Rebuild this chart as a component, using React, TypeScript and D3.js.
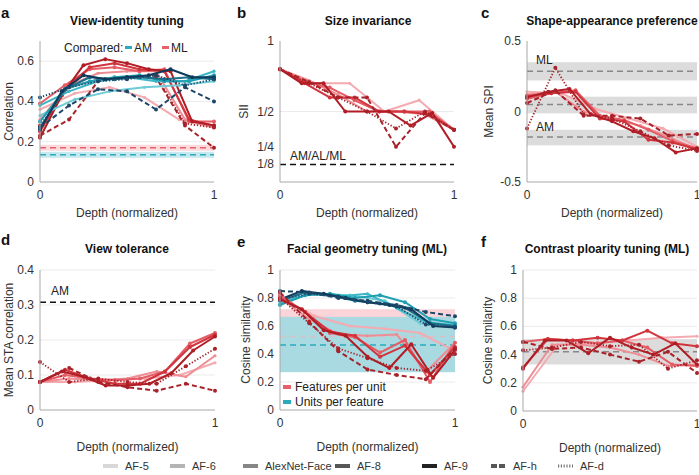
import React from "react";
import * as d3 from "d3";

const NETWORKS = ["AF-5", "AF-6", "AlexNet-Face", "AF-8", "AF-9", "AF-h", "AF-d"];
const LAYER_COUNTS = [6, 7, 8, 8, 9, 7, 7];
const ML_COLORS = ["#f4aab0", "#ee8d94", "#e45c65", "#d2343d", "#b01d25", "#a8222a", "#a8222a"];
const AM_COLORS = ["#6fcbd6", "#3bb7c6", "#1f9fb2", "#1a6f8a", "#0f3a5a", "#1c4768", "#1c4768"];
const LEGEND_COLORS = ["#d8d8d8", "#b4b4b4", "#868686", "#575757", "#222222", "#575757", "#777777"];
const DASHES = ["", "", "", "", "", "5,3", "1.3,1.8"];

// a: View-identity tuning
const viewIdML = [
  [0.36, 0.44, 0.47, 0.42, 0.31, 0.27],
  [0.31, 0.48, 0.54, 0.55, 0.55, 0.31, 0.27],
  [0.39, 0.48, 0.56, 0.57, 0.55, 0.56, 0.30, 0.30],
  [0.25, 0.46, 0.57, 0.59, 0.56, 0.55, 0.31, 0.28],
  [0.22, 0.43, 0.58, 0.61, 0.59, 0.56, 0.55, 0.30, 0.28],
  [0.23, 0.31, 0.50, 0.52, 0.52, 0.28, 0.17],
  [0.28, 0.47, 0.51, 0.52, 0.53, 0.29, 0.27],
];
const viewIdAM = [
  [0.33, 0.41, 0.45, 0.47, 0.48, 0.50],
  [0.38, 0.45, 0.50, 0.52, 0.50, 0.50, 0.55],
  [0.30, 0.46, 0.50, 0.52, 0.53, 0.50, 0.50, 0.53],
  [0.27, 0.46, 0.52, 0.51, 0.52, 0.51, 0.52, 0.51],
  [0.26, 0.45, 0.53, 0.51, 0.52, 0.53, 0.56, 0.52, 0.52],
  [0.27, 0.38, 0.46, 0.45, 0.36, 0.47, 0.40],
  [0.42, 0.47, 0.50, 0.51, 0.53, 0.48, 0.51],
];
const viewIdBaseline = { ML: [0.155, 0.17, 0.185], AM: [0.12, 0.135, 0.15] };

// b: Size invariance
const sizeInv = [
  [0.80, 0.70, 0.70, 0.50, 0.58, 0.37],
  [0.80, 0.72, 0.62, 0.50, 0.50, 0.48, 0.37],
  [0.80, 0.71, 0.67, 0.58, 0.50, 0.50, 0.50, 0.37],
  [0.80, 0.70, 0.60, 0.60, 0.50, 0.50, 0.48, 0.37],
  [0.80, 0.70, 0.70, 0.50, 0.50, 0.50, 0.40, 0.49, 0.25],
  [0.80, 0.71, 0.60, 0.60, 0.25, 0.49, 0.37],
  [0.80, 0.70, 0.60, 0.50, 0.38, 0.50, 0.37],
];
const sizeTicks = [1, 0.5, 0.25, 0.125];
const sizeTickLabels = ["1", "1/2", "1/4", "1/8"];
const sizeBaseline = 0.125;

// c: Shape-appearance preference
const shapeApp = [
  [0.14, 0.13, 0.02, -0.05, -0.12, -0.25],
  [0.12, 0.14, 0.0, -0.05, -0.1, -0.18, -0.27],
  [0.09, 0.13, 0.15, -0.03, -0.06, -0.13, -0.21, -0.26],
  [0.11, 0.13, 0.14, -0.05, -0.07, -0.2, -0.22, -0.27],
  [0.10, 0.14, 0.16, -0.02, -0.07, -0.14, -0.19, -0.29, -0.26],
  [0.06, 0.15, -0.03, -0.03, -0.05, -0.17, -0.16],
  [-0.12, 0.31, -0.02, -0.05, -0.14, -0.24, -0.28],
];
const shapeBands = [
  [0.22, 0.285, 0.35],
  [-0.013, 0.05, 0.105],
  [-0.24, -0.18, -0.13],
];

// d: View tolerance
const viewTol = [
  [0.08, 0.08, 0.085, 0.09, 0.10, 0.135],
  [0.08, 0.09, 0.085, 0.09, 0.11, 0.095, 0.155],
  [0.08, 0.10, 0.09, 0.085, 0.09, 0.11, 0.19, 0.22],
  [0.08, 0.115, 0.09, 0.075, 0.075, 0.11, 0.18, 0.215],
  [0.08, 0.11, 0.095, 0.07, 0.07, 0.075, 0.105, 0.17, 0.21],
  [0.08, 0.12, 0.08, 0.065, 0.055, 0.075, 0.055],
  [0.137, 0.08, 0.09, 0.08, 0.075, 0.125, 0.175],
];
const viewTolAM = 0.308;

// e: Facial geometry tuning
const geomML = [
  [0.80, 0.67, 0.60, 0.58, 0.55, 0.42],
  [0.80, 0.65, 0.54, 0.53, 0.54, 0.27, 0.48],
  [0.82, 0.70, 0.55, 0.52, 0.41, 0.50, 0.20, 0.48],
  [0.80, 0.70, 0.56, 0.53, 0.38, 0.46, 0.25, 0.45],
  [0.79, 0.72, 0.57, 0.53, 0.38, 0.30, 0.47, 0.23, 0.43],
  [0.84, 0.63, 0.42, 0.29, 0.25, 0.22, 0.44],
  [0.80, 0.62, 0.44, 0.37, 0.30, 0.28, 0.40],
];
const geomAM = [
  [0.78, 0.83, 0.82, 0.78, 0.62, 0.61],
  [0.76, 0.83, 0.81, 0.83, 0.73, 0.63, 0.60],
  [0.75, 0.82, 0.83, 0.80, 0.82, 0.77, 0.65, 0.62],
  [0.78, 0.84, 0.82, 0.78, 0.76, 0.73, 0.62, 0.60],
  [0.79, 0.85, 0.83, 0.80, 0.77, 0.75, 0.72, 0.60, 0.59],
  [0.85, 0.84, 0.80, 0.78, 0.75, 0.70, 0.67],
  [0.79, 0.83, 0.81, 0.77, 0.74, 0.61, 0.59],
];
const geomBandML = [0.34, 0.525, 0.72];
const geomBandAM = [0.27, 0.464, 0.665];

// f: Contrast polarity tuning
const contrast = [
  [0.14, 0.47, 0.48, 0.50, 0.52, 0.53],
  [0.17, 0.47, 0.47, 0.45, 0.40, 0.32, 0.33],
  [0.49, 0.51, 0.50, 0.48, 0.50, 0.45, 0.33, 0.32],
  [0.31, 0.51, 0.50, 0.52, 0.50, 0.57, 0.48, 0.46],
  [0.30, 0.50, 0.50, 0.41, 0.52, 0.45, 0.40, 0.48, 0.33],
  [0.49, 0.44, 0.45, 0.40, 0.35, 0.42, 0.27],
  [0.43, 0.45, 0.49, 0.46, 0.47, 0.30, 0.36],
];
const contrastBand = [0.33, 0.42, 0.51];

const FONT = "'Liberation Sans', Arial, Helvetica, sans-serif";

type Box = { x0: number; x1: number; yTop: number; yBot: number; domain: [number, number] };

function Lines({ data, colors, sx, sy }: { data: number[][]; colors: string[]; sx: any; sy: any }) {
  const line = d3
    .line<[number, number]>()
    .x((d) => sx(d[0]))
    .y((d) => sy(d[1]));
  return (
    <g>
      {data.map((vals, k) => {
        const n = LAYER_COUNTS[k];
        const pts: [number, number][] = vals.map((v, i) => [i / (n - 1), v]);
        return (
          <g key={k}>
            <path
              d={line(pts) || ""}
              fill="none"
              stroke={colors[k]}
              strokeWidth={k === 6 ? 1.8 : 2}
              strokeDasharray={DASHES[k] || undefined}
              strokeLinejoin="round"
            />
            {pts.map((p, i) => (
              <circle key={i} cx={sx(p[0])} cy={sy(p[1])} r={k < 2 ? 1.6 : 2} fill={colors[k]} />
            ))}
          </g>
        );
      })}
    </g>
  );
}

function Panel({
  box,
  letter,
  title,
  ylabel,
  ticks,
  tickLabels,
  tickFmt,
  titleY,
  ylabelX,
  children,
  grid,
}: {
  box: Box;
  letter: [string, number, number];
  title: [string, number];
  ylabel: string;
  ticks: number[];
  tickLabels?: string[];
  tickFmt?: (v: number) => string;
  titleY: number;
  ylabelX: number;
  grid: number[];
  children: (sx: any, sy: any) => React.ReactNode;
}) {
  const sx = d3.scaleLinear().domain([0, 1]).range([box.x0, box.x1]);
  const sy = d3.scaleLinear().domain(box.domain).range([box.yBot, box.yTop]);
  const fmt = tickFmt || ((v: number) => String(v));
  const isTop = box.yBot < 300;
  const xTickY = box.yBot + 17;
  const xLabelY = isTop ? box.yBot + 35 : box.yBot + 41;
  return (
    <g fontFamily={FONT}>
      <text x={letter[1]} y={letter[2]} fontSize={15} fontWeight="bold" fill="#111">
        {letter[0]}
      </text>
      <text x={title[1]} y={titleY} fontSize={12} fontWeight="bold" textAnchor="middle" fill="#111">
        {title[0]}
      </text>
      {grid.map((g, i) => (
        <line key={i} x1={box.x0} x2={box.x1} y1={sy(g)} y2={sy(g)} stroke="#ebebeb" strokeWidth={1} />
      ))}
      {children(sx, sy)}
      <line x1={box.x0} x2={box.x0} y1={box.yTop} y2={box.yBot} stroke="#a8a8a8" strokeWidth={1} />
      <line x1={box.x0} x2={box.x1} y1={box.yBot} y2={box.yBot} stroke="#a8a8a8" strokeWidth={1} />
      {ticks.map((t, i) => (
        <text key={i} x={box.x0 - 6} y={sy(t) + 4} fontSize={12} textAnchor="end" fill="#333">
          {tickLabels ? tickLabels[i] : fmt(t)}
        </text>
      ))}
      <text x={box.x0} y={xTickY} fontSize={12} textAnchor="middle" fill="#333">0</text>
      <text x={box.x1} y={xTickY} fontSize={12} textAnchor="middle" fill="#333">1</text>
      <text x={(box.x0 + box.x1) / 2} y={xLabelY} fontSize={12} textAnchor="middle" fill="#333">
        Depth (normalized)
      </text>
      <text
        transform={`translate(${ylabelX},${(box.yTop + box.yBot) / 2}) rotate(-90)`}
        fontSize={12}
        textAnchor="middle"
        fill="#333"
      >
        {ylabel}
      </text>
    </g>
  );
}

function Band({ sx, sy, band, fill, dash, x0 = 0, x1 = 1 }: any) {
  return (
    <g>
      <rect x={sx(x0)} width={sx(x1) - sx(x0)} y={sy(band[2])} height={sy(band[0]) - sy(band[2])} fill={fill} />
      <line x1={sx(x0)} x2={sx(x1)} y1={sy(band[1])} y2={sy(band[1])} stroke={dash} strokeWidth={1.5} strokeDasharray="6,4" />
    </g>
  );
}

export default function App() {
  const legendX = [103, 170, 243, 335, 422, 491, 558];
  return (
    <svg width={699} height={475} style={{ position: "absolute", left: 0, top: 0, background: "#fff" }}>
      <rect x={0} y={0} width={699} height={475} fill="#fff" />
      {/* a */}
      <Panel
        box={{ x0: 40, x1: 214, yTop: 41, yBot: 182, domain: [0, 0.7] }}
        letter={["a", 1, 18]}
        title={["View-identity tuning", 127]}
        titleY={25}
        ylabel="Correlation"
        ylabelX={13}
        ticks={[0, 0.2, 0.4, 0.6]}
        grid={[0.2, 0.4, 0.6]}
      >
        {(sx: any, sy: any) => (
          <g>
            <Band sx={sx} sy={sy} band={viewIdBaseline.ML} fill="#fbd9dd" dash="#e8606a" />
            <Band sx={sx} sy={sy} band={viewIdBaseline.AM} fill="#c6e9ef" dash="#2aaabb" />
            <Lines data={viewIdML} colors={ML_COLORS} sx={sx} sy={sy} />
            <Lines data={viewIdAM} colors={AM_COLORS} sx={sx} sy={sy} />
            <text x={64} y={52} fontSize={12} fill="#222">Compared:</text>
            <rect x={125} y={46} width={7} height={3} fill="#2aaabb" />
            <text x={134} y={52} fontSize={12} fill="#222">AM</text>
            <rect x={162} y={46} width={7} height={3} fill="#e8606a" />
            <text x={171} y={52} fontSize={12} fill="#222">ML</text>
          </g>
        )}
      </Panel>
      {/* b */}
      <Panel
        box={{ x0: 280, x1: 454, yTop: 41, yBot: 182, domain: [0, 1] }}
        letter={["b", 237, 18]}
        title={["Size invariance", 368]}
        titleY={25}
        ylabel="SII"
        ylabelX={248}
        ticks={sizeTicks}
        tickLabels={sizeTickLabels}
        grid={[0.5]}
      >
        {(sx: any, sy: any) => (
          <g>
            <line x1={sx(0)} x2={sx(1)} y1={sy(sizeBaseline)} y2={sy(sizeBaseline)} stroke="#111" strokeWidth={1.5} strokeDasharray="6,4" />
            <text x={290} y={160} fontSize={12} fill="#222">AM/AL/ML</text>
            <Lines data={sizeInv} colors={ML_COLORS} sx={sx} sy={sy} />
          </g>
        )}
      </Panel>
      {/* c */}
      <Panel
        box={{ x0: 527, x1: 697, yTop: 41, yBot: 182, domain: [-0.5, 0.5] }}
        letter={["c", 481, 18]}
        title={["Shape-appearance preference", 612]}
        titleY={25}
        ylabel="Mean SPI"
        ylabelX={493}
        ticks={[0.5, 0, -0.5]}
        grid={[]}
      >
        {(sx: any, sy: any) => (
          <g>
            {shapeBands.map((b, i) => (
              <Band key={i} sx={sx} sy={sy} band={b} fill="#dcdcdc" dash="#888" />
            ))}
            <text x={536} y={64} fontSize={12} fill="#222">ML</text>
            <text x={536} y={131} fontSize={12} fill="#222">AM</text>
            <Lines data={shapeApp} colors={ML_COLORS} sx={sx} sy={sy} />
          </g>
        )}
      </Panel>
      {/* d */}
      <Panel
        box={{ x0: 40, x1: 215, yTop: 270, yBot: 410, domain: [0, 0.4] }}
        letter={["d", 1, 245]}
        title={["View tolerance", 127]}
        titleY={253}
        ylabel="Mean STA correlation"
        ylabelX={13}
        ticks={[0, 0.1, 0.2, 0.3, 0.4]}
        grid={[0.1, 0.2, 0.3, 0.4]}
      >
        {(sx: any, sy: any) => (
          <g>
            <line x1={sx(0)} x2={sx(1)} y1={sy(viewTolAM)} y2={sy(viewTolAM)} stroke="#111" strokeWidth={1.5} strokeDasharray="6,4" />
            <text x={51} y={295} fontSize={12} fill="#222">AM</text>
            <Lines data={viewTol} colors={ML_COLORS} sx={sx} sy={sy} />
          </g>
        )}
      </Panel>
      {/* e */}
      <Panel
        box={{ x0: 280, x1: 455, yTop: 270, yBot: 410, domain: [0, 1] }}
        letter={["e", 237, 247]}
        title={["Facial geometry tuning (ML)", 367]}
        titleY={253}
        ylabel="Cosine similarity"
        ylabelX={250}
        ticks={[0, 0.2, 0.4, 0.6, 0.8, 1]}
        grid={[0.2, 0.4, 0.6, 0.8, 1]}
      >
        {(sx: any, sy: any) => (
          <g>
            <rect x={sx(0)} width={sx(1) - sx(0)} y={sy(geomBandML[2])} height={sy(geomBandML[0]) - sy(geomBandML[2])} fill="#fad4d9" />
            <rect x={sx(0)} width={sx(1) - sx(0)} y={sy(geomBandAM[2])} height={sy(geomBandAM[0]) - sy(geomBandAM[2])} fill="#a9d9e1" />
            <line x1={sx(0)} x2={sx(1)} y1={sy(geomBandML[1])} y2={sy(geomBandML[1])} stroke="#d7c1c5" strokeWidth={1.5} strokeDasharray="6,4" />
            <line x1={sx(0)} x2={sx(1)} y1={sy(geomBandAM[1])} y2={sy(geomBandAM[1])} stroke="#2aaabb" strokeWidth={1.5} strokeDasharray="6,4" />
            <Lines data={geomAM} colors={AM_COLORS} sx={sx} sy={sy} />
            <Lines data={geomML} colors={ML_COLORS} sx={sx} sy={sy} />
            <rect x={283} y={385} width={8} height={4} fill="#e8606a" />
            <text x={295} y={391} fontSize={12} fill="#222">Features per unit</text>
            <rect x={283} y={400} width={8} height={4} fill="#2aaabb" />
            <text x={295} y={406} fontSize={12} fill="#222">Units per feature</text>
          </g>
        )}
      </Panel>
      {/* f */}
      <Panel
        box={{ x0: 523, x1: 697, yTop: 270, yBot: 411, domain: [0, 1] }}
        letter={["f", 481, 247]}
        title={["Contrast ploarity tuning (ML)", 607]}
        titleY={253}
        ylabel="Cosine similarity"
        ylabelX={492}
        ticks={[0, 0.2, 0.4, 0.6, 0.8, 1]}
        grid={[0.2, 0.4, 0.6, 0.8, 1]}
      >
        {(sx: any, sy: any) => (
          <g>
            <Band sx={sx} sy={sy} band={contrastBand} fill="#dcdcdc" dash="#888" />
            <Lines data={contrast} colors={ML_COLORS} sx={sx} sy={sy} />
          </g>
        )}
      </Panel>
      {/* legend */}
      <g fontFamily={FONT}>
        {NETWORKS.map((name, k) => (
          <g key={name}>
            <line
              x1={legendX[k]}
              x2={legendX[k] + 15}
              y1={466}
              y2={466}
              stroke={LEGEND_COLORS[k]}
              strokeWidth={k === 6 ? 3 : 4}
              strokeDasharray={k === 5 ? "6,2" : k === 6 ? "1.2,1.6" : undefined}
            />
            <text x={legendX[k] + 22} y={470} fontSize={11} fill="#333">
              {name}
            </text>
          </g>
        ))}
      </g>
    </svg>
  );
}
